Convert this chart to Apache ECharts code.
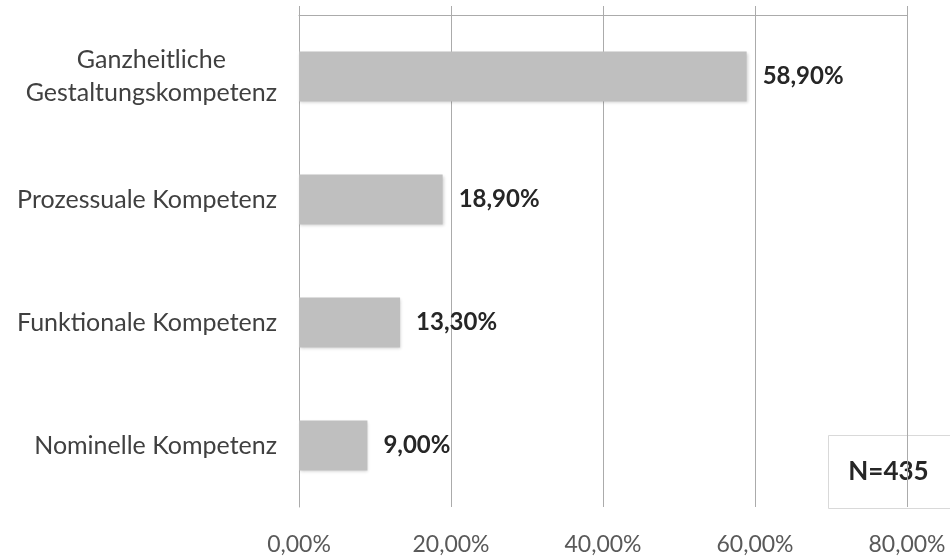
<!DOCTYPE html>
<html>
<head>
<meta charset="utf-8">
<script src="https://cdn.jsdelivr.net/npm/echarts@6/dist/echarts.min.js"></script>
<style>
  html, body { margin: 0; padding: 0; background: #ffffff; }
  #chart { width: 950px; height: 556px; }
</style>
</head>
<body>
<div id="chart"></div>
<script>
// Competence categories, top to bottom
const categories = [
  'Ganzheitliche\nGestaltungskompetenz',
  'Prozessuale Kompetenz',
  'Funktionale Kompetenz',
  'Nominelle Kompetenz'
];
// Share of respondents in percent
const shares = [58.9, 18.9, 13.3, 9.0];
// Axis ticks in percent
const axisTicks = [0, 20, 40, 60, 80];
const sampleNote = 'N=435';

const fontFamily = 'Lato, "Open Sans", "Noto Sans", sans-serif';
const pct = v => v.toFixed(2).replace('.', ',') + '%';

const chart = echarts.init(document.getElementById('chart'), null, { renderer: 'canvas' });

const axisBase = {
  type: 'value',
  min: axisTicks[0],
  max: axisTicks[axisTicks.length - 1],
  interval: axisTicks[1] - axisTicks[0]
};

chart.setOption({
  animation: false,
  backgroundColor: '#ffffff',
  grid: { left: 299, right: 43, top: 15, bottom: 49, containLabel: false },
  xAxis: [
    Object.assign({}, axisBase, {
      position: 'top',
      axisLine: { show: true, lineStyle: { color: '#ababab', width: 1 } },
      axisTick: { show: true, inside: false, length: 9, lineStyle: { color: '#ababab' } },
      axisLabel: { show: false },
      splitLine: { show: true, lineStyle: { color: '#ababab', width: 1 } }
    }),
    Object.assign({}, axisBase, {
      position: 'bottom',
      axisLine: { show: false },
      axisTick: { show: false },
      splitLine: { show: false },
      axisLabel: {
        show: true,
        margin: 26,
        fontFamily: fontFamily,
        fontSize: 23,
        color: '#595959',
        formatter: v => pct(v)
      }
    })
  ],
  yAxis: {
    type: 'category',
    data: categories,
    inverse: true,
    axisLine: { show: true, lineStyle: { color: '#ababab' } },
    axisTick: { show: false },
    axisLabel: {
      margin: 22,
      align: 'right',
      // multi-line names are centred line by line within their block
      formatter: name => name.split('\n').map(line => '{c|' + line + '}').join('\n'),
      rich: {
        c: {
          align: 'center',
          fontFamily: fontFamily,
          fontSize: 25,
          lineHeight: 33,
          color: '#404040'
        }
      }
    }
  },
  series: [{
    type: 'bar',
    xAxisIndex: 0,
    data: shares,
    barWidth: 50,
    itemStyle: {
      color: '#bfbfbf',
      shadowColor: 'rgba(0,0,0,0.18)',
      shadowBlur: 3,
      shadowOffsetX: 1,
      shadowOffsetY: 1
    },
    label: {
      show: true,
      position: 'right',
      distance: 16,
      fontFamily: fontFamily,
      fontSize: 24,
      fontWeight: 'bold',
      color: '#262626',
      formatter: p => pct(p.value)
    }
  }],
  graphic: [{
    type: 'group',
    left: 828,
    top: 435,
    children: [
      {
        type: 'rect',
        shape: { x: 0, y: 0, width: 130, height: 73 },
        style: { fill: '#ffffff', stroke: '#d9d9d9', lineWidth: 1 }
      },
      {
        type: 'text',
        x: 60,
        y: 36,
        style: {
          text: sampleNote,
          fontFamily: fontFamily,
          fontSize: 26,
          fontWeight: 'bold',
          fill: '#262626',
          align: 'center',
          verticalAlign: 'middle'
        }
      }
    ]
  }]
});
</script>
</body>
</html>
